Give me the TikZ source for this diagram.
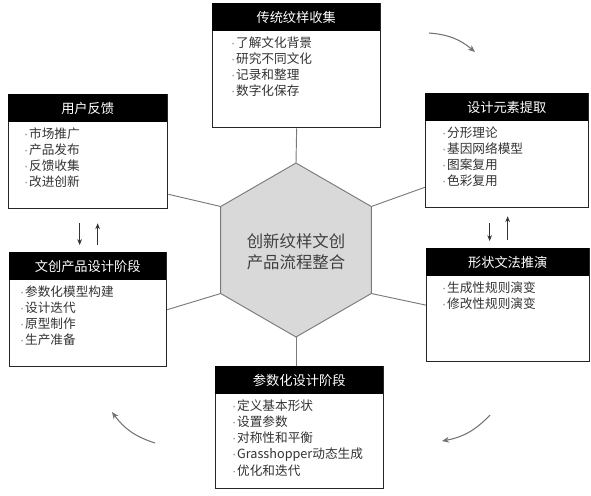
\documentclass[tikz,border=0pt]{standalone}
\usepackage{fontspec}
\setmainfont{Noto Sans CJK SC}
\newfontfamily\dotfont{Liberation Sans}
\usepackage{tikz}
\usetikzlibrary{arrows.meta}
\usetikzlibrary{calc}
\usepackage{xcolor}

\definecolor{hexgray}{HTML}{D9D9D9}
\definecolor{linegray}{HTML}{7A7A7A}
\definecolor{textgray}{HTML}{333333}

\tikzset{
  stagebox/.style={draw=black!85, line width=1.1pt, fill=white, rectangle, anchor=north west, inner sep=0pt},
  stagehead/.style={fill=black, text=white, rectangle, anchor=north west, inner sep=0pt,
    minimum height=28*0.03cm, font=\fontsize{11.3}{13}\selectfont},
  stagebody/.style={anchor=north west, inner sep=0pt, align=left, text=textgray,
    font=\fontsize{10.8}{13.8}\selectfont},
  link/.style={draw=linegray, line width=0.8pt},
  updown/.style={-{Stealth[length=5pt,width=4pt]}, line width=0.7pt, black!80},
  flow/.style={-{Stealth[length=6pt,width=5pt]}, line width=0.9pt, draw=black!55},
}

% 項目の点
\newcommand{\itm}{{\dotfont\color{black!50}·}\kern0.6pt}

% 段階ボックス: 名前, x, y, 幅, 高さ, 見出し, 字下げ, 項目
\newcommand{\stage}[8]{%
  \node[stagebox, minimum width=#4*0.03cm, minimum height=#5*0.03cm] (#1) at (#2,#3) {};
  \node[stagehead, minimum width=#4*0.03cm] (#1-h) at (#1.north west) {#6};
  \node[stagebody] (#1-b) at ($(#1-h.south west)+(#7,5)$) {#8};
}

\begin{document}
\begin{tikzpicture}[x=0.03cm, y=-0.03cm]
        \useasboundingbox (0,0) rectangle (591,495);

        %------------------
        % 中央の六角形
        %------------------

        \coordinate (h1) at (296,163);
        \coordinate (h2) at (220.7,206.5);
        \coordinate (h3) at (220.7,293.5);
        \coordinate (h4) at (296,337);
        \coordinate (h5) at (371.3,293.5);
        \coordinate (h6) at (371.3,206.5);
        \fill[hexgray] (h1) -- (h2) -- (h3) -- (h4) -- (h5) -- (h6) -- cycle;
        \draw[link] (h1) -- (h2) -- (h3) -- (h4) -- (h5) -- (h6) -- cycle;
        \node[align=center, text=black!75, font=\fontsize{14}{17.5}\selectfont] (hub) at (296,252)
          {创新纹样文创\\产品流程整合};

        %------------------
        % 各段階
        %------------------

        \stage{collect}{212}{3}{168}{124}{传统纹样收集}{19}
          {\itm 了解文化背景\\\itm 研究不同文化\\\itm 记录和整理\\\itm 数字化保存}
        \stage{extract}{425}{93}{163}{114}{设计元素提取}{17}
          {\itm 分形理论\\\itm 基因网络模型\\\itm 图案复用\\\itm 色彩复用}
        \stage{grammar}{426}{248}{163}{113}{形状文法推演}{16}
          {\itm 生成性规则演变\\\itm 修改性规则演变}
        \stage{param}{215}{366}{168}{122}{参数化设计阶段}{17}
          {\itm 定义基本形状\\\itm 设置参数\\\itm 对称性和平衡\\\itm Grasshopper动态生成\\\itm 优化和迭代}
        \stage{design}{9}{252}{157}{114}{文创产品设计阶段}{11}
          {\itm 参数化模型构建\\\itm 设计迭代\\\itm 原型制作\\\itm 生产准备}
        \stage{fb}{8}{94}{159}{114}{用户反馈}{16}
          {\itm 市场推广\\\itm 产品发布\\\itm 反馈收集\\\itm 改进创新}

        %------------------
        % 接続線
        %------------------

        \draw[link] (collect.south) -- (h1);
        \draw[link] (h6) -- (extract.204);
        \draw[link] (h5) -- (grammar.west);
        \draw[link] (h4) -- (h4 |- param.north);
        \draw[link] (h3) -- (design.east);
        \draw[link] (h2) -- (fb.-28);

        % 上下の矢印
        \draw[updown] ($(fb.south)+(-8.5,14)$) -- ($(design.north)+(-8.5,-7)$);
        \draw[updown] ($(design.north)+(9.5,-7)$) -- ($(fb.south)+(9.5,14)$);
        \draw[updown] ($(extract.south)+(-17.5,15)$) -- ($(grammar.north)+(-18.5,-7)$);
        \draw[updown] ($(grammar.north)+(-0.5,-8)$) -- ($(extract.south)+(0.5,8)$);

        %------------------
        % 循環の矢印
        %------------------

        \coordinate (c1s) at (429,33);  \coordinate (c1e) at (475,52);
        \coordinate (c2s) at (490,415); \coordinate (c2e) at (442,441);
        \coordinate (c3s) at (155,443); \coordinate (c3e) at (112,412);
        \draw[flow] (c1s) to[bend left=18] (c1e);
        \draw[flow] (c2s) to[bend left=18] (c2e);
        \draw[flow] (c3s) to[bend left=18] (c3e);
      \end{tikzpicture}
\end{document}
